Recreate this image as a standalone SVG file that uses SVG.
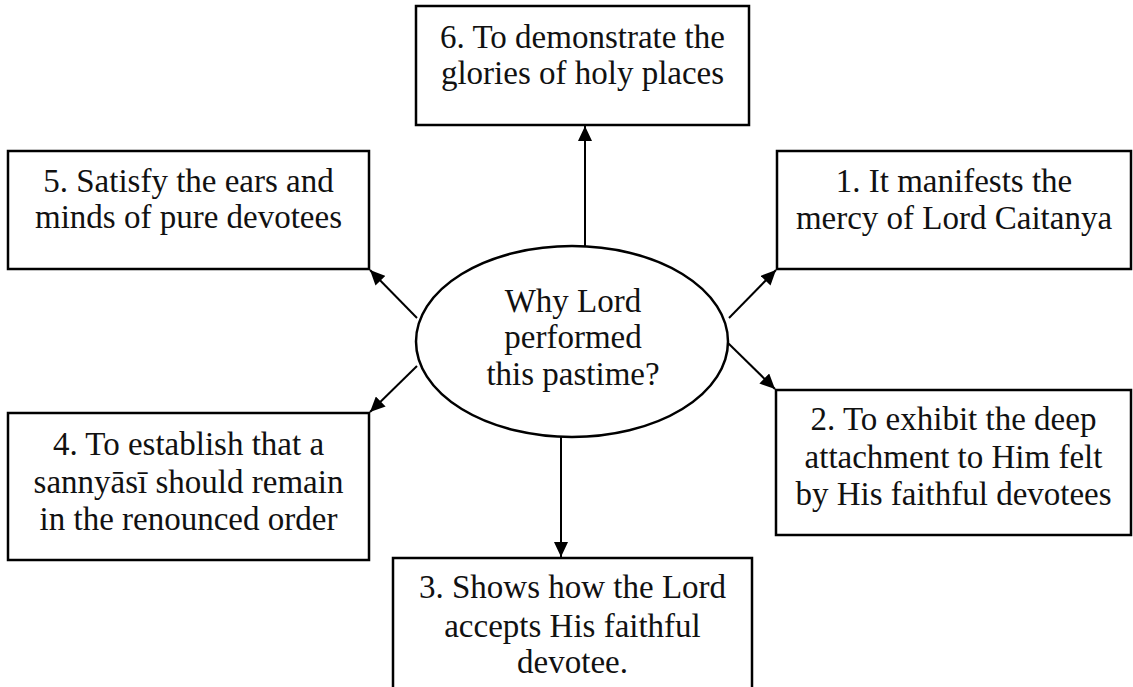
<svg xmlns="http://www.w3.org/2000/svg" width="1133" height="687" viewBox="0 0 1133 687">
<style>
.box{fill:#fff;stroke:#000;stroke-width:2.5}
.t{font-family:"Liberation Serif","Times New Roman",serif;font-size:33px;fill:#111;text-anchor:middle}
.c{fill:none;stroke:#000;stroke-width:2}
</style>
<defs>
<marker id="ah" markerUnits="userSpaceOnUse" markerWidth="16" markerHeight="14" refX="15" refY="7" orient="auto">
<path d="M0,0 L15,7 L0,14 z" fill="#000"/>
</marker>
</defs>
<rect width="1133" height="687" fill="#fff"/>
<g id="connectors">
<path class="c" d="M585,246 L585,126" marker-end="url(#ah)"/>
<path class="c" d="M561,437 L561,557" marker-end="url(#ah)"/>
<path class="c" d="M729,318 L776,270" marker-end="url(#ah)"/>
<path class="c" d="M728,343 L775,389" marker-end="url(#ah)"/>
<path class="c" d="M417,318 L370,270" marker-end="url(#ah)"/>
<path class="c" d="M417,366 L370,412" marker-end="url(#ah)"/>
</g>
<g id="center">
<ellipse class="box" cx="572" cy="341.5" rx="156" ry="95.5"/>
<text class="t" x="573" y="312">Why Lord</text>
<text class="t" x="573" y="348">performed</text>
<text class="t" x="573" y="385">this pastime?</text>
</g>
<g id="n6">
<rect class="box" x="416" y="6" width="333" height="119"/>
<text class="t" x="582.5" y="48">6. To demonstrate the</text>
<text class="t" x="582.5" y="84">glories of holy places</text>
</g>
<g id="n5">
<rect class="box" x="8" y="151" width="361" height="118"/>
<text class="t" x="188.5" y="192">5. Satisfy the ears and</text>
<text class="t" x="188.5" y="228">minds of pure devotees</text>
</g>
<g id="n1">
<rect class="box" x="777" y="151" width="354" height="118"/>
<text class="t" x="954" y="192">1. It manifests the</text>
<text class="t" x="954" y="229">mercy of Lord Caitanya</text>
</g>
<g id="n4">
<rect class="box" x="8" y="413" width="361" height="147"/>
<text class="t" x="188.5" y="455">4. To establish that a</text>
<text class="t" x="188.5" y="493">sannyāsī should remain</text>
<text class="t" x="188.5" y="530">in the renounced order</text>
</g>
<g id="n2">
<rect class="box" x="776" y="390" width="355" height="145"/>
<text class="t" x="953.5" y="430">2. To exhibit the deep</text>
<text class="t" x="953.5" y="468">attachment to Him felt</text>
<text class="t" x="953.5" y="505">by His faithful devotees</text>
</g>
<g id="n3">
<rect class="box" x="393" y="558" width="359" height="150"/>
<text class="t" x="572.5" y="598">3. Shows how the Lord</text>
<text class="t" x="572.5" y="637">accepts His faithful</text>
<text class="t" x="572.5" y="673">devotee.</text>
</g>
</svg>
